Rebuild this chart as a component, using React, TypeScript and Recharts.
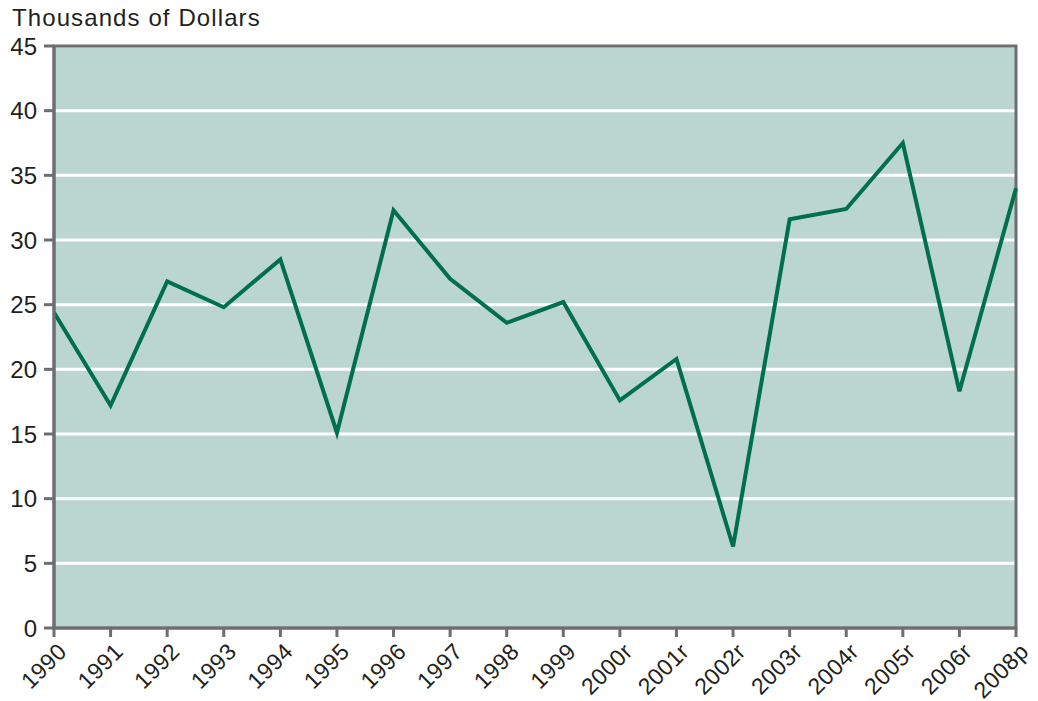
import React from "react";
import { LineChart, Line, XAxis, YAxis, CartesianGrid, ReferenceArea } from "recharts";

const years = ["1990", "1991", "1992", "1993", "1994", "1995", "1996", "1997", "1998", "1999", "2000r", "2001r", "2002r", "2003r", "2004r", "2005r", "2006r", "2008p"];
const values = [24.4, 17.2, 26.8, 24.8, 28.5, 15.1, 32.3, 27.0, 23.6, 25.2, 17.6, 20.8, 6.3, 31.6, 32.4, 37.5, 18.3, 34.0];
const yTicks = [0, 5, 10, 15, 20, 25, 30, 35, 40, 45];

const data = years.map((y, i) => ({ year: y, value: values[i] }));

const FONT = "'Liberation Sans', Arial, Helvetica, sans-serif";
const GREY = "#6d6e71";

const XTick = (props: any) => {
  const { x, y, payload } = props;
  return (
    <g transform={`translate(${x + 14},${y + 14})`}>
      <text transform="rotate(-45)" textAnchor="end" fontSize={23} letterSpacing={0.4} fontFamily={FONT} fill="#231f20">
        {payload.value}
      </text>
    </g>
  );
};

export default function App() {
  return (
    <div style={{ position: "absolute", left: 0, top: 0, width: 1038, height: 701, background: "#fff" }}>
      <div style={{ position: "absolute", left: 12, top: 3, fontSize: 24, letterSpacing: 1.1, fontFamily: FONT, color: "#231f20", lineHeight: "30px", whiteSpace: "nowrap" }}>
        Thousands of Dollars
      </div>
      <LineChart width={1038} height={701} data={data} margin={{ top: 46, right: 22, bottom: 0, left: 0 }} style={{ overflow: "visible" }}>
        <CartesianGrid vertical={false} horizontal={true} stroke="#ffffff" strokeWidth={3} fill="#bbd6cf" fillOpacity={1} />
        <XAxis
          dataKey="year"
          scale="point"
          padding={{ left: 0, right: 0 }}
          interval={0}
          height={73}
          tick={<XTick />}
          tickSize={9}
          axisLine={{ stroke: GREY, strokeWidth: 3 }}
          tickLine={{ stroke: GREY, strokeWidth: 3 }}
        />
        <YAxis
          domain={[0, 45]}
          ticks={yTicks}
          interval={0}
          width={54}
          tickSize={10}
          tickMargin={7}
          axisLine={{ stroke: GREY, strokeWidth: 3 }}
          tickLine={{ stroke: GREY, strokeWidth: 3 }}
          tick={{ fontSize: 24, fontFamily: FONT, fill: "#231f20" }}
        />
        <ReferenceArea x1="1990" x2="2008p" y1={0} y2={45} fill="none" stroke={GREY} strokeWidth={3} ifOverflow="extendDomain" />
        <Line type="linear" dataKey="value" stroke="#00704a" strokeWidth={4} dot={false} isAnimationActive={false} />
      </LineChart>
    </div>
  );
}
